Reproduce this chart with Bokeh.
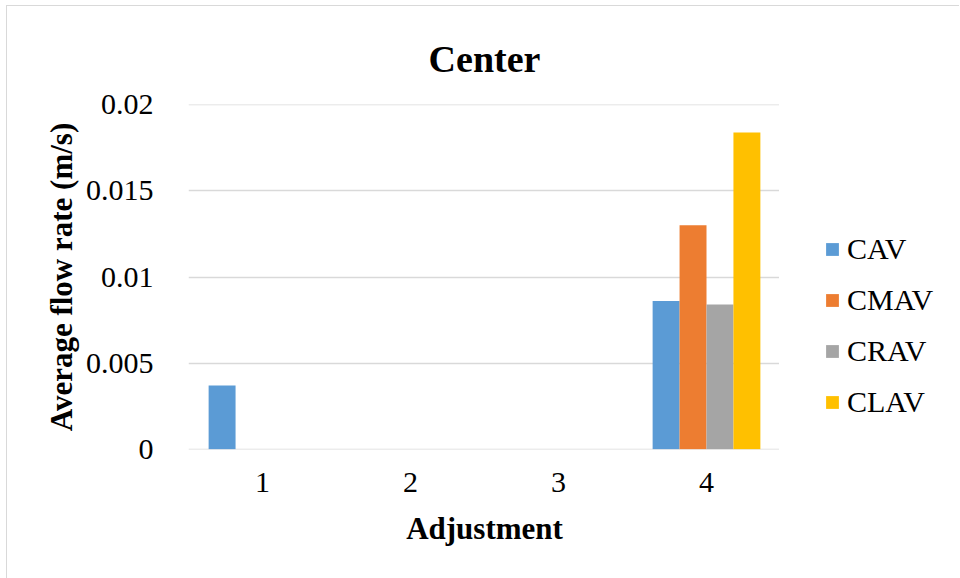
from bokeh.plotting import figure
from bokeh.layouts import row
from bokeh.models import ColumnDataSource, FixedTicker, Legend, LegendItem, Range1d
from bokeh.transform import dodge
from bokeh.embed import file_html
from bokeh.resources import INLINE

# Data
adjustments = ["1", "2", "3", "4"]
series_names = ["CAV", "CMAV", "CRAV", "CLAV"]
cav = [0.0037, 0.0, 0.0, 0.0086]
cmav = [0.0, 0.0, 0.0, 0.0130]
crav = [0.0, 0.0, 0.0, 0.0084]
clav = [0.0, 0.0, 0.0, 0.0184]
y_ticks = [0, 0.005, 0.01, 0.015, 0.02]
y_tick_labels = ["0", "0.005", "0.01", "0.015", "0.02"]

colors = ["#5B9BD5", "#ED7D31", "#A5A5A5", "#FFC000"]
FONT = "Liberation Serif"
BORDER = "1px solid #d9d9d9"

source = ColumnDataSource(dict(x=adjustments, CAV=cav, CMAV=cmav, CRAV=crav, CLAV=clav))

# tiny pad so the grid lines at 0 and 0.02 are drawn
pad = 0.00002
p = figure(
    x_range=adjustments, y_range=(0 - pad, 0.02 + pad),
    width=773, height=573, margin=(5, 0, 0, 6),
    styles={"border-left": BORDER, "border-top": BORDER},
    output_backend="svg", toolbar_location=None,
    min_border_left=181, min_border_right=0, min_border_top=98, min_border_bottom=130,
    title="Center",
)
p.x_range.range_padding = 0

bar_w = 0.182
offsets = [-1.5 * bar_w, -0.5 * bar_w, 0.5 * bar_w, 1.5 * bar_w]
for name, color, off in zip(series_names, colors, offsets):
    p.vbar(x=dodge("x", off, range=p.x_range), top=name, width=bar_w,
           source=source, fill_color=color, line_color=None)

# Title, held near the top of the space above the plot area
p.title.text_font = FONT
p.title.text_font_size = "38px"
p.title.text_font_style = "bold"
p.title.text_color = "#000000"
p.title.align = "center"
p.title.vertical_align = "top"
p.title.padding = 18
p.title.offset = 6
p.title.standoff = 10

# Grid
p.xgrid.grid_line_color = None
p.ygrid.grid_line_color = "#d9d9d9"
p.ygrid.grid_line_width = 1.5
p.outline_line_color = None

# Axes
p.yaxis.ticker = FixedTicker(ticks=y_ticks)
p.yaxis.major_label_overrides = {t: s for t, s in zip(y_ticks, y_tick_labels)}
for ax in (p.xaxis[0], p.yaxis[0]):
    ax.axis_line_color = None
    ax.major_tick_line_color = None
    ax.minor_tick_line_color = None
    ax.major_label_text_font = FONT
    ax.major_label_text_font_size = "30px"
    ax.major_label_text_color = "#000000"
    ax.axis_label_text_font = FONT
    ax.axis_label_text_font_size = "31px"
    ax.axis_label_text_font_style = "bold"
    ax.axis_label_text_color = "#000000"

p.yaxis.axis_label = "Average flow rate (m/s)"
p.yaxis.major_label_standoff = 29
p.yaxis.axis_label_standoff = 4
p.xaxis.axis_label = "Adjustment"
p.xaxis.major_label_standoff = 17
p.xaxis.axis_label_standoff = 16

# Legend panel to the right of the chart; the swatch renderers are hidden,
# so only the key itself is drawn.
lg = figure(
    width=180, height=573, margin=(5, 0, 0, 0),
    styles={"border-top": BORDER},
    x_range=adjustments, y_range=Range1d(0, 1),
    output_backend="svg", toolbar_location=None,
    x_axis_location=None, y_axis_location=None,
    min_border_left=0, min_border_right=0, min_border_top=0, min_border_bottom=0,
)
lg.grid.visible = False
lg.outline_line_color = None
swatches = []
for name, c in zip(series_names, colors):
    r = lg.vbar(x="x", top=name, width=0.2, source=source, fill_color=c, line_color=None)
    r.visible = False
    swatches.append(r)

legend = Legend(
    items=[LegendItem(label=n, renderers=[r]) for n, r in zip(series_names, swatches)],
    location=(45, 29), padding=0, margin=0, spacing=15,
    glyph_width=16, glyph_height=16, label_height=36, label_standoff=7,
    label_text_font=FONT, label_text_font_size="30px", label_text_color="#000000",
    inactive_fill_alpha=0,
    border_line_color=None, background_fill_alpha=0,
)
lg.add_layout(legend)

layout = row(p, lg, spacing=0)
open("out.html", "w").write(file_html(layout, INLINE))
